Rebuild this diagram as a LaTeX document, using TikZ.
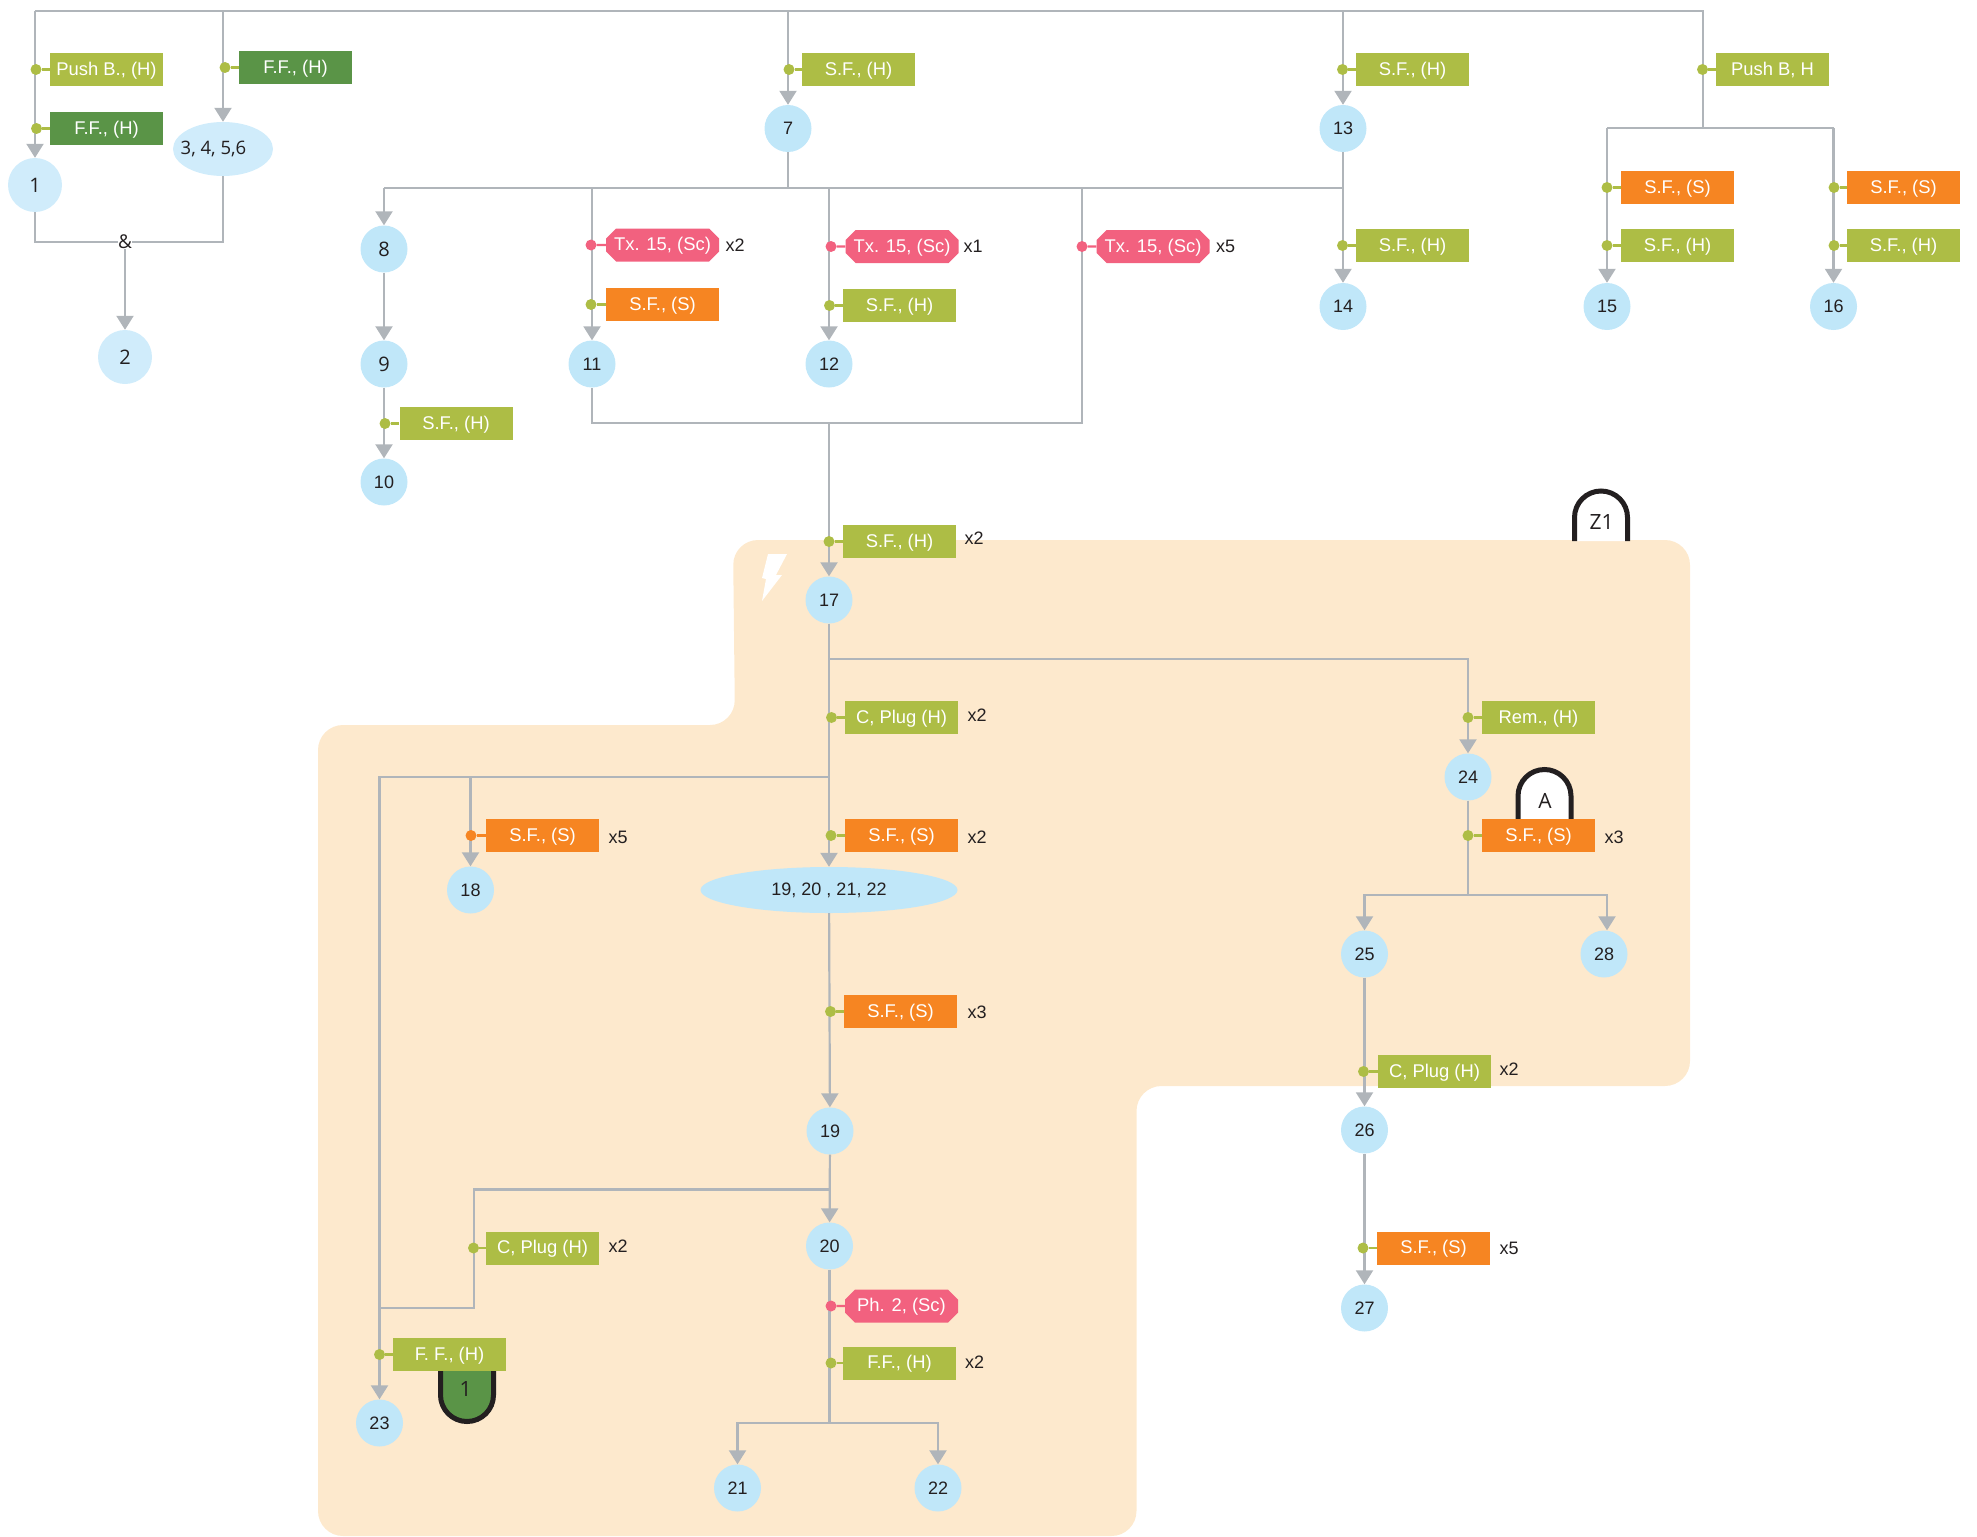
\documentclass[tikz,border=0pt]{standalone}
\usepackage{fontspec}
\setmainfont{Liberation Sans}
\newfontfamily\humanfont{Open Sans}
\usetikzlibrary{shapes}
\usetikzlibrary{arrows.meta}
\definecolor{wiregrey}{HTML}{B0B5BA}
\definecolor{zonecream}{HTML}{FDE9CD}
\definecolor{stepblue}{HTML}{C0E7F9}
\definecolor{paleblue}{HTML}{D0ECFB}
\definecolor{handolive}{HTML}{ADBD45}
\definecolor{footgreen}{HTML}{5A9447}
\definecolor{softorange}{HTML}{F68522}
\definecolor{scalepink}{HTML}{F2617F}
\definecolor{inkblack}{HTML}{231F20}
\tikzset{
    stepnode/.style={shape=circle,fill=stepblue,inner sep=0pt,minimum size=47pt,text=inkblack,font=\fontsize{18}{22}\selectfont},
    palenode/.style={stepnode,fill=paleblue,minimum size=54pt,font=\humanfont\fontsize{20}{24}\selectfont},
    wide/.style={shape=ellipse,inner sep=0pt,minimum width=#1,minimum height=46pt},
    wire/.style={draw=wiregrey,line width=2.2pt},
    flow/.style={wire,-{Triangle[length=14pt,width=17pt]}},
    stub/.style={line width=2.2pt},
    dotmark/.style={shape=circle,inner sep=0pt,minimum size=11pt},
    opbox/.style={shape=rectangle,inner sep=0pt,minimum width=113pt,minimum height=33pt,text height=14pt,text depth=2.4pt,text=white,font=\fontsize{18.4}{22}\selectfont},
    boxhand/.style={opbox,fill=handolive},
    boxfoot/.style={opbox,fill=footgreen},
    boxsoft/.style={opbox,fill=softorange},
    boxscale/.style={opbox,shape=chamfered rectangle,chamfered rectangle xsep=5pt,chamfered rectangle ysep=5pt,fill=scalepink},
    countlabel/.style={inner sep=0pt,text=inkblack,font=\fontsize{18}{22}\selectfont},
    taglabel/.style={inner sep=0pt,text=inkblack,font=\humanfont\fontsize{21}{25}\selectfont},
    tagline/.style={draw=inkblack,line width=5pt},
}
\newcommand{\stepat}[4]{\node[stepnode] (#1) at ( #2 , #3 ) {#4};}
\newcommand{\opat}[7]{\node[dotmark,fill=#3] (#1d) at ( #4 , #6 ) {}; \node[#2] (#1) at ( #5 , #6 ) {#7}; \draw[stub,#3] (#1d) -- (#1);}
\newcommand{\countat}[4]{\node[countlabel] (#1) at ( #2 , #3 ) {#4};}

\begin{document}
\begin{tikzpicture}[x=1pt,y=-1pt]
        \useasboundingbox (0,0) rectangle (1977,1536);

        % zone
        \fill[zonecream,rounded corners=25pt] (318,725) -- (735,725) -- (733,540) -- (1690,540) -- (1690,1086) -- (1136.5,1086) -- (1136.5,1536) -- (318,1536) -- cycle;
        \fill[white] (768,554) -- (787,554) -- (776,575) -- (782,575) -- (762,601) -- (766,579) -- (762,578) -- cycle;

        % tags
        \draw[tagline,fill=white,rounded corners=26.5pt] (1574.5,541) -- (1574.5,491) -- (1627.5,491) -- (1627.5,541);
        \node[taglabel] (tagzone) at (1601.5,522) {Z1};
        \draw[tagline,fill=white,rounded corners=26.5pt] (1518,820) -- (1518,769.5) -- (1571,769.5) -- (1571,820);
        \node[taglabel] (tagalert) at (1545,800.5) {A};
        \draw[tagline,fill=footgreen,rounded corners=26.5pt] (440.5,1371) -- (440.5,1421.5) -- (493.5,1421.5) -- (493.5,1371);
        \node[taglabel] (tagone) at (465.5,1389) {1};

        % top group
        \node[palenode] (n1) at (35,185) {1};
        \node[palenode] (n2) at (125,357) {2};
        \node[palenode,wide=100pt,minimum height=54pt,font=\humanfont\fontsize{18.5}{24}\selectfont] (e3456) at (223,149) {\makebox[0pt]{3, 4, 5,6\hspace*{19pt}}};
        \node[stepnode,font=\humanfont\fontsize{20}{24}\selectfont] (n8) at (384,249) {8};
        \node[stepnode,font=\humanfont\fontsize{20}{24}\selectfont] (n9) at (384,364) {9};
        \stepat{n7}{788}{128.5}{7}
        \stepat{n10}{384}{482}{10}
        \stepat{n11}{592}{364}{11}
        \stepat{n12}{829}{364}{12}
        \stepat{n13}{1343}{128.5}{13}
        \stepat{n14}{1343}{306.5}{14}
        \stepat{n15}{1607}{306.5}{15}
        \stepat{n16}{1833.5}{306.5}{16}

        % zone group
        \stepat{n17}{829}{600}{17}
        \stepat{n18}{470.5}{890}{18}
        \node[stepnode,wide=257pt] (e1922) at (829,890) {19, 20 , 21, 22};
        \stepat{n19}{830}{1131}{19}
        \stepat{n20}{829.5}{1246}{20}
        \stepat{n21}{737.5}{1488}{21}
        \stepat{n22}{938}{1488}{22}
        \stepat{n23}{379.5}{1423}{23}
        \stepat{n24}{1468}{777}{24}
        \stepat{n25}{1364.5}{954}{25}
        \stepat{n26}{1364.5}{1130}{26}
        \stepat{n27}{1364.5}{1308}{27}
        \stepat{n28}{1604}{954}{28}

        \coordinate (railL) at (35,11);
        \coordinate (railR) at (1703,11);
        \coordinate (forkR) at (1703,128);
        \coordinate (busT) at (1082,188);
        \coordinate (joinR) at (1082,423);
        \coordinate (branch24) at (829,659);
        \coordinate (branch23) at (829,777);
        \coordinate (branch19) at (829.5,1189.5);
        \coordinate (elbowL) at (474,1189.5);
        \coordinate (elbowB) at (474,1308);
        \coordinate (fork20) at (829.5,1423);
        \coordinate (fork24) at (1468,895);
        \node[inner sep=0pt,fill=white,text=inkblack,font=\humanfont\fontsize{19}{23}\selectfont] (andmark) at (125,242) {\&};

        % connectors top
        \draw[wire] (railL) -- (railR) -- (forkR);
        \draw[flow] (railL) -- (n1);
        \draw[flow] (railL -| e3456) -- (e3456);
        \draw[flow] (railL -| n7) -- (n7);
        \draw[flow] (railL -| n13) -- (n13);
        \draw[wire] (n1) |- (andmark);
        \draw[wire] (e3456) |- (andmark);
        \draw[flow] (andmark) -- (n2);
        \draw[wire] (n15 |- forkR) -- (n16 |- forkR);
        \draw[flow] (n15 |- forkR) -- (n15);
        \draw[flow] (n16 |- forkR) -- (n16);
        \draw[wire] (n7) -- (n7 |- busT);
        \draw[wire] (n8 |- busT) -- (n13 |- busT);
        \draw[flow] (n13) -- (n14);
        \draw[flow] (n8 |- busT) -- (n8);
        \draw[flow] (n8) -- (n9);
        \draw[flow] (n9) -- (n10);
        \draw[flow] (n11 |- busT) -- (n11);
        \draw[flow] (n12 |- busT) -- (n12);
        \draw[wire] (busT) -- (joinR) -- (n11 |- joinR) -- (n11);
        \draw[flow] (n12 |- joinR) -- (n17);

        % connectors zone
        \draw[flow] (n17) -- (e1922);
        \draw[flow] (branch24) -| (n24);
        \draw[flow] (branch23) -| (n23);
        \draw[flow] (n18 |- branch23) -- (n18);
        \draw[flow] (e1922) -- (n19);
        \draw[flow] (n19) -- (n20);
        \draw[wire] (branch19) -- (elbowL) -- (elbowB) -- (n23 |- elbowB);
        \draw[wire] (n20) -- (fork20);
        \draw[flow] (fork20) -| (n21);
        \draw[flow] (fork20) -| (n22);
        \draw[wire] (n24) -- (fork24);
        \draw[flow] (fork24) -| (n25);
        \draw[flow] (fork24) -| ([xshift=3pt]n28.north);
        \draw[flow] (n25) -- (n26);
        \draw[flow] (n26) -- (n27);

        % boxes top
        \opat{pushA}{boxhand}{handolive}{36}{106.5}{69.5}{Push B., (H)}
        \opat{footA}{boxfoot}{handolive}{36.5}{106.5}{128.5}{F.F., (H)}
        \opat{footB}{boxfoot}{handolive}{225}{295.5}{67.5}{F.F., (H)}
        \opat{sevA}{boxhand}{handolive}{789}{858.5}{69.5}{S.F., (H)}
        \opat{thirA}{boxhand}{handolive}{1342.5}{1412.5}{69.5}{S.F., (H)}
        \opat{pushB}{boxhand}{handolive}{1702.5}{1772.5}{69.5}{Push B, H}
        \opat{fourA}{boxhand}{handolive}{1342.5}{1412.5}{245.5}{S.F., (H)}
        \opat{fifA}{boxsoft}{handolive}{1607}{1677.5}{187.5}{S.F., (S)}
        \opat{fifB}{boxhand}{handolive}{1607}{1677.5}{245.5}{S.F., (H)}
        \opat{sixA}{boxsoft}{handolive}{1834}{1903.5}{187.5}{S.F., (S)}
        \opat{sixB}{boxhand}{handolive}{1834}{1903.5}{245.5}{S.F., (H)}
        \opat{tenA}{boxhand}{handolive}{385}{456}{423.5}{S.F., (H)}
        \opat{elevA}{boxscale}{scalepink}{591}{662.5}{245}{Tx. 15, (Sc)}
        \opat{elevB}{boxsoft}{handolive}{591}{662.5}{304.5}{S.F., (S)}
        \opat{twelA}{boxscale}{scalepink}{831}{902}{246.5}{Tx. 15, (Sc)}
        \opat{twelB}{boxhand}{handolive}{829.5}{899.5}{305.5}{S.F., (H)}
        \opat{joinA}{boxscale}{scalepink}{1082}{1153}{246.5}{Tx. 15, (Sc)}

        % boxes zone
        \opat{sevtA}{boxhand}{handolive}{829}{899.5}{541.5}{S.F., (H)}
        \opat{plugA}{boxhand}{handolive}{831.5}{901.5}{717.5}{C, Plug (H)}
        \opat{remA}{boxhand}{handolive}{1468}{1538.5}{717.5}{Rem., (H)}
        \opat{alertA}{boxsoft}{handolive}{1468}{1538.5}{835.5}{S.F., (S)}
        \opat{eighA}{boxsoft}{softorange}{471}{542.5}{835.5}{S.F., (S)}
        \opat{wideA}{boxsoft}{handolive}{831}{901.5}{835.5}{S.F., (S)}
        \opat{wideB}{boxsoft}{handolive}{830.5}{900.5}{1011.5}{S.F., (S)}
        \opat{plugB}{boxhand}{handolive}{1363.5}{1434.5}{1071.5}{C, Plug (H)}
        \opat{softA}{boxsoft}{handolive}{1363}{1433.5}{1248}{S.F., (S)}
        \opat{plugC}{boxhand}{handolive}{473.5}{542.5}{1248}{C, Plug (H)}
        \opat{footC}{boxhand}{handolive}{379.5}{449.5}{1354.5}{F. F., (H)}
        \opat{phA}{boxscale}{scalepink}{831}{901.5}{1306}{Ph. 2, (Sc)}
        \opat{footD}{boxhand}{handolive}{831}{899.5}{1363}{F.F., (H)}

        % counts
        \countat{cA}{735}{245}{x2}
        \countat{cB}{973}{246}{x1}
        \countat{cC}{1225.5}{246}{x5}
        \countat{cD}{974}{538}{x2}
        \countat{cE}{977}{715}{x2}
        \countat{cF}{618}{837}{x5}
        \countat{cG}{977}{837}{x2}
        \countat{cH}{1614}{837}{x3}
        \countat{cI}{977}{1012}{x3}
        \countat{cJ}{1509}{1069}{x2}
        \countat{cK}{618}{1246}{x2}
        \countat{cL}{1509}{1248.5}{x5}
        \countat{cM}{974.5}{1362}{x2}
    \end{tikzpicture}
\end{document}
